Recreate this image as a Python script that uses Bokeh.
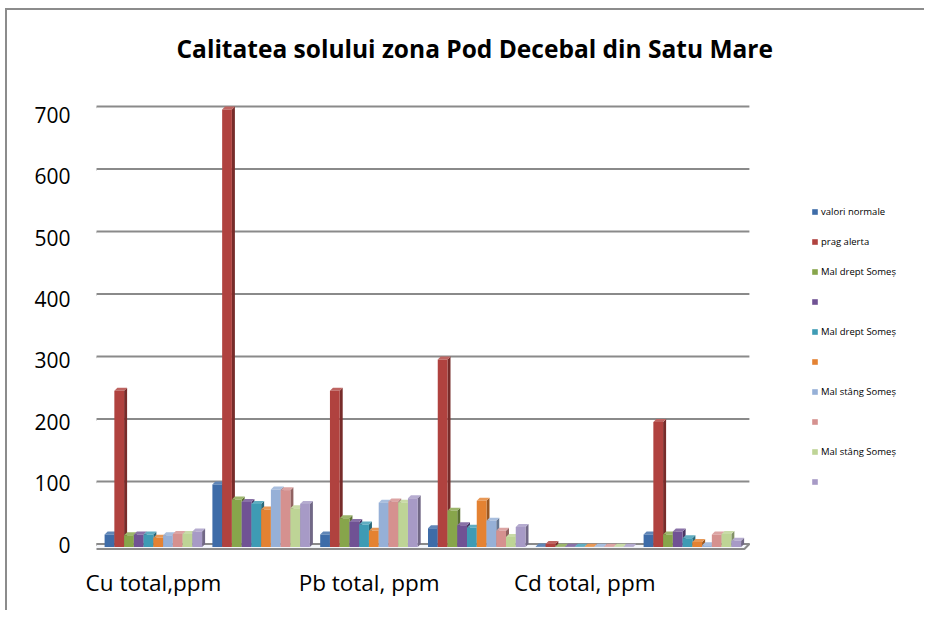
from bokeh.plotting import figure
from bokeh.models import Range1d, LinearAxis, FixedTicker, Legend, LegendItem
from bokeh.core.properties import value
from bokeh.embed import file_html
from bokeh.resources import INLINE

# ---------------- data ----------------
title_text = "Calitatea solului zona Pod Decebal din Satu Mare"
tick_labels = ["Cu total,ppm", "", "Pb total, ppm", "", "Cd total, ppm", ""]
y_ticks = [0, 100, 200, 300, 400, 500, 600, 700]

series_names = ["valori normale", "prag alerta", "Mal drept Someș", "",
                "Mal drept Someș", "", "Mal stâng Someș", "",
                "Mal stâng Someș", ""]

valori_normale = [20, 100, 20, 30, 1, 20]
prag_alerta = [250, 700, 250, 300, 5, 200]
serie_3 = [19, 76, 46, 58, 0.4, 20]
serie_4 = [20, 72, 40, 35, 0.4, 25]
serie_5 = [20, 69, 36, 31, 0.4, 14]
serie_6 = [15, 60, 26, 74, 0.4, 8]
serie_7 = [19, 92, 71, 42, 0.4, 3]
serie_8 = [21, 91, 73, 26, 0.4, 20]
serie_9 = [21, 62, 71, 16, 0.4, 21]
serie_10 = [25, 69, 78, 32, 0.4, 10]
series_values = [valori_normale, prag_alerta, serie_3, serie_4, serie_5,
                 serie_6, serie_7, serie_8, serie_9, serie_10]

# ---------------- styles ----------------
front_colors = ["#3E6CA8", "#B0423F", "#87A54B", "#705294", "#3E9BB4",
                "#E48232", "#96B0D7", "#D5918F", "#BED496", "#A79AC6"]


def shade(hex_color, f):
    r, g, b = (int(hex_color[i:i + 2], 16) for i in (1, 3, 5))
    if f < 1:
        r, g, b = (int(c * f) for c in (r, g, b))
    else:
        r, g, b = (int(c + (255 - c) * (f - 1)) for c in (r, g, b))
    return "#%02x%02x%02x" % (r, g, b)


FONT = "Open Sans"
GRID = "#8a8a8a"

W, H = 919, 602
OX, OY = 8, 11        # canvas origin on the page
# frame position on the page (px)
F_LEFT, F_RIGHT, F_TOP, F_BOTTOM = 97, 927, 80, 560
GROUP_PX = 107.8      # px per category
X0_PX = 154.0         # page x of first category centre
PX_Y = 0.625          # px per value unit
BASE_PY = 547.5       # page y of value 0 (bars)

x_start = (F_LEFT - X0_PX) / GROUP_PX
x_end = (F_RIGHT - X0_PX) / GROUP_PX
y_start = (BASE_PY - F_BOTTOM) / PX_Y
y_end = (BASE_PY - F_TOP) / PX_Y

# label range (labels sit on a slightly different plane)
LAB_0 = 545.0
LAB_PX = 0.614
lab_start = (LAB_0 - F_BOTTOM) / LAB_PX
lab_end = (LAB_0 - F_TOP) / LAB_PX


def dxu(px):
    return px / GROUP_PX


def dyu(px):
    return px / PX_Y


n_cat = len(tick_labels)
n_ser = len(series_values)
GPAD = dxu(5.0)
SLOT = dxu(9.75)
BDX, BDY = dxu(3), dyu(3)          # bar depth
WDX, WDY = dxu(5), dyu(3)          # wall depth offset (back plane)
FRONT_DY = dyu(2)                  # floor front edge below base

x_lo = -0.5 - dxu(8)
x_hi = n_cat - 0.5 + dxu(3)

p = figure(width=W, height=H, output_backend="svg", toolbar_location=None,
           x_range=Range1d(x_start, x_end), y_range=Range1d(y_start, y_end),
           y_axis_location=None,
           min_border_left=F_LEFT - OX, min_border_right=W - (F_RIGHT - OX),
           min_border_top=F_TOP - OY, min_border_bottom=H - (F_BOTTOM - OY))
p.outline_line_color = None
p.xgrid.visible = False
p.ygrid.visible = False
p.background_fill_color = "white"
p.border_fill_color = "white"
p.styles = {"margin-left": "5px", "margin-top": "8px",
            "border-left": "2px solid #8c8c8c", "border-top": "2px solid #8c8c8c"}

# title
p.title.text = title_text
p.title.text_font = FONT
p.title.text_font_style = "bold"
p.title.text_font_size = "24.5px"
p.title.text_color = "#000000"
p.title.align = "left"
p.title.offset = 80
p.title.standoff = 29

# y axis (labels)
p.extra_y_ranges = {"lab": Range1d(lab_start, lab_end)}
yaxis = LinearAxis(y_range_name="lab", ticker=FixedTicker(ticks=y_ticks))
yaxis.axis_line_color = None
yaxis.major_tick_line_color = None
yaxis.minor_tick_line_color = None
yaxis.major_tick_out = 0
yaxis.major_label_standoff = 26
yaxis.major_label_text_font = FONT
yaxis.major_label_text_font_size = "21px"
yaxis.major_label_text_color = "#000000"
p.add_layout(yaxis, "left")

# x axis (categories)
xaxis = p.xaxis[0]
xaxis.ticker = FixedTicker(ticks=list(range(n_cat)))
xaxis.major_label_overrides = {i: lab for i, lab in enumerate(tick_labels)}
xaxis.axis_line_color = None
xaxis.major_tick_line_color = None
xaxis.minor_tick_line_color = None
xaxis.major_tick_out = 0
xaxis.major_label_standoff = 7
xaxis.major_label_text_font = FONT
xaxis.major_label_text_font_size = "22.5px"
xaxis.major_label_text_color = "#000000"

# floor
p.patch([x_lo, x_hi - WDX, x_hi, x_lo + WDX],
        [-FRONT_DY, -FRONT_DY, WDY, WDY],
        fill_color="#f4f6fa", line_color=GRID, line_width=2)

# back wall gridlines with little corner connectors
gx, gy = [], []
for v in y_ticks:
    gx.append([x_lo, x_lo + WDX, x_hi])
    gy.append([v - FRONT_DY, v + WDY, v + WDY])
p.multi_line(gx, gy, line_color=GRID, line_width=2)
# left wall edge
p.line([x_lo, x_lo], [-FRONT_DY, y_ticks[-1] - FRONT_DY], line_color=GRID, line_width=2)

# bars
legend_items = []
for j in range(n_ser):
    vals = series_values[j]
    col = front_colors[j]
    lefts = [i - 0.5 + GPAD + j * SLOT for i in range(n_cat)]
    rights = [l + SLOT for l in lefts]
    side_x = [[r, r + BDX, r + BDX, r] for r in rights]
    side_y = [[0, BDY, v + BDY, v] for v in vals]
    top_x = [[l, r, r + BDX, l + BDX] for l, r in zip(lefts, rights)]
    top_y = [[v, v, v + BDY, v + BDY] for v in vals]
    p.patches(side_x, side_y, fill_color=shade(col, 0.68), line_color=None)
    p.patches(top_x, top_y, fill_color=shade(col, 1.18), line_color=None)
    r = p.quad(left=lefts, right=rights, bottom=0, top=vals,
               fill_color=col, line_color=None)
    legend_items.append(LegendItem(label=value(series_names[j]), renderers=[r]))

legend = Legend(items=legend_items, location=(715, 71), orientation="vertical",
                padding=0, margin=0, spacing=17, label_height=13,
                glyph_height=7, glyph_width=7, label_standoff=3,
                label_text_font=FONT, label_text_font_size="9.5px",
                label_text_color="#000000",
                border_line_color=None, background_fill_alpha=0)
p.add_layout(legend)

open("out.html", "w").write(file_html(p, INLINE))
